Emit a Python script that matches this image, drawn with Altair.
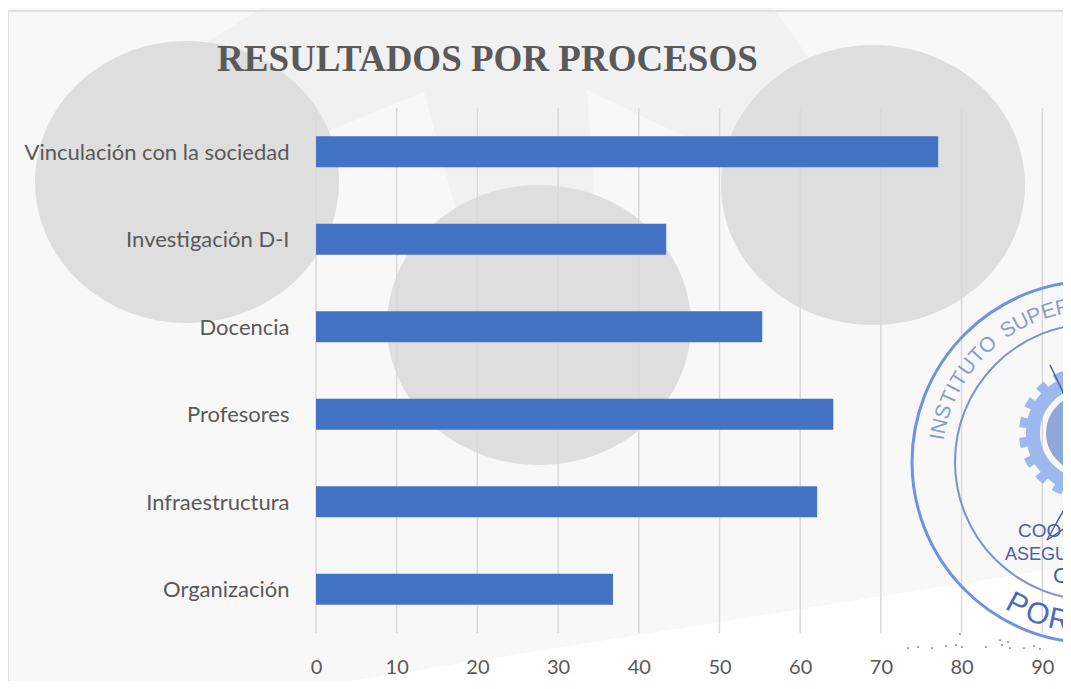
import math
import altair as alt
import pandas as pd

TITLE = "RESULTADOS POR PROCESOS"
categories = ["Vinculación con la sociedad", "Investigación D-I", "Docencia",
              "Profesores", "Infraestructura", "Organización"]
values = [77.1, 43.4, 55.3, 64.1, 62.1, 36.8]
tick_values = [0, 10, 20, 30, 40, 50, 60, 70, 80, 90]

W, H = 747, 525
LEFT, TOP = 316, 108
XMAX = W / 8.07

# decorative backdrop, in picture units
bg_band = [(262, 8), (210, 40), (180, 90), (240, 200), (331, 130), (424, 92), (454, 203),
           (475, 300), (600, 300), (594, 190), (587, 90), (686, 137), (745, 190), (808, 57), (774, 8)]
white_corner = [(300, 689), (1071, 566), (1071, 689)]
frame_top = [(8, 11), (1071, 11)]
frame_left = [(8, 11), (8, 689)]
discs = [(187, 182, 152, 141), (539, 325, 152, 140), (873, 185, 152, 140)]
dots = [(908, 648), (918, 647), (932, 648), (946, 646), (956, 645), (962, 647), (986, 647),
        (1002, 645), (1008, 642), (1010, 648), (1024, 648), (1034, 646), (1040, 649), (960, 634), (1000, 640)]
sign_a = [(1050, 365), (1062, 390), (1071, 412)]
sign_b = [(1071, 498), (1058, 520), (1047, 540), (1071, 524)]

px = alt.Scale(domain=[LEFT, LEFT + W], range=[0, W], nice=False, zero=False)
py = alt.Scale(domain=[TOP, TOP + H], range=[0, H], nice=False, zero=False)
X = lambda: alt.X("x:Q", scale=px, axis=None)
Y = lambda: alt.Y("y:Q", scale=py, axis=None)


def pts(seq):
    return pd.DataFrame([{"x": p[0], "y": p[1], "o": i} for i, p in enumerate(seq)])


def poly(seq, fill):
    return alt.Chart(pts(seq)).mark_line(fill=fill, stroke=fill, strokeWidth=0).encode(X(), Y(), order="o:Q")


def ellipse(cx, cy, rx, ry, fill):
    outline = [(cx + rx * math.cos(math.radians(d)), cy + ry * math.sin(math.radians(d))) for d in range(0, 360, 3)]
    return poly(outline, fill)


def path(seq, color, width, **kw):
    return alt.Chart(pts(seq)).mark_line(color=color, strokeWidth=width, **kw).encode(X(), Y(), order="o:Q")


def ring(cx, cy, r, color, width, **kw):
    return alt.Chart(pts([(cx, cy)])).mark_point(
        filled=False, size=(2 * r) ** 2, color=color, strokeWidth=width, opacity=1, **kw
    ).encode(X(), Y())


def glyphs(rows, size, color, weight="normal"):
    return alt.Chart(pd.DataFrame(rows)).mark_text(
        font="Liberation Sans", fontSize=size, color=color, align="center", baseline="middle", fontWeight=weight
    ).encode(X(), Y(), text="t:N", angle=alt.Angle("a:Q", scale=None))


def top_arc(text, start, r, size, color, deg_per_em, cx=1093, cy=462):
    rows, a = [], start
    for ch in text:
        w = 0.34 if ch == "I" else (0.55 if ch == " " else 0.75)
        a -= w / 2 * deg_per_em
        rad = math.radians(a)
        if ch != " ":
            rows.append({"x": cx + r * math.cos(rad), "y": cy - r * math.sin(rad), "t": ch, "a": (90 - a) % 360})
        a -= w / 2 * deg_per_em
    return glyphs(rows, size, color)


def bottom_arc(text, angles, r, size, color, cx=1093, cy=462):
    rows = []
    for ch, a in zip(text, angles):
        rad = math.radians(a)
        rows.append({"x": cx - r * math.sin(rad), "y": cy + r * math.cos(rad), "t": ch, "a": a})
    return glyphs(rows, size, color)


def line_text(text, x, y, size, color, font="Liberation Sans", weight="normal"):
    return alt.Chart(pd.DataFrame([{"x": x, "y": y, "t": text}])).mark_text(
        font=font, fontSize=size, color=color, align="left", baseline="alphabetic", fontWeight=weight
    ).encode(X(), Y(), text="t:N")


main_x = alt.Scale(domain=[0, XMAX], range=[0, W], nice=False, zero=False)

grid = alt.Chart(pd.DataFrame({"v": tick_values})).mark_rule(color="#d9d9d9", strokeWidth=1.5).encode(
    x=alt.X("v:Q", scale=main_x, axis=None)
)

bars = alt.Chart(pd.DataFrame({"cat": categories, "val": values})).mark_bar(color="#4472c4").encode(
    x=alt.X("val:Q", scale=main_x, axis=alt.Axis(
        values=tick_values, title=None, grid=False, domain=False, ticks=False, zindex=1,
        labelFont="Lato", labelFontSize=20, labelColor="#595959", labelPadding=24, labelFlush=False)),
    y=alt.Y("cat:N", sort=categories, scale=alt.Scale(paddingInner=0.646, paddingOuter=0.323),
            axis=alt.Axis(title=None, grid=False, domain=False, ticks=False, zindex=1, labelLimit=320,
                          labelOffset=1, labelFont="Lato", labelFontSize=22, labelColor="#595959", labelPadding=27)),
)

INK = "#4a5cae"
layers = [
    poly(bg_band, "#f1f1f1"),
    poly(white_corner, "#ffffff"),
    path(frame_top, "#e0e0e0", 2),
    path(frame_left, "#e0e0e0", 2),
    *[ellipse(*d, "#dedede") for d in discs],
    grid,
    bars,
    ring(1093, 462, 181, "#7192e4", 3),
    ring(1093, 462, 138, "#7f8fd0", 2),
    ring(1085, 433, 62, "#9db8ec", 8, strokeDash=[10, 10]),
    ring(1085, 433, 52, "#9db8ec", 14),
    ring(1085, 433, 29, "#8fa8d8", 20),
    path(sign_a, INK, 1.5),
    path(sign_b, INK, 1.5),
    top_arc("INSTITUTO SUPER", 172, 157, 21, "#8c9bcf", 7.2),
    bottom_arc("POR", [28, 20, 12], 162, 30, "#4f67c4"),
    line_text("COOR", 1018, 537, 19, INK),
    line_text("ASEGUR", 1005, 560, 18, INK),
    line_text("C", 1053, 583, 22, INK),
    alt.Chart(pts(dots)).mark_point(filled=True, size=3, color="#555555", opacity=1).encode(X(), Y()),
    line_text(TITLE, 217, 71, 37, "#595959", font="Liberation Serif", weight="bold"),
]

chart = alt.layer(*layers).resolve_scale(x="independent", y="independent").resolve_axis(
    x="independent", y="independent"
).properties(
    width=W, height=H,
    background="#f8f8f8",
    padding={"left": LEFT - 8, "top": TOP - 8, "right": 0, "bottom": 48},
    autosize=alt.AutoSizeParams(type="none"),
).configure_view(stroke=None)

chart.save("out.html", embed_options={"renderer": "svg", "actions": False})
